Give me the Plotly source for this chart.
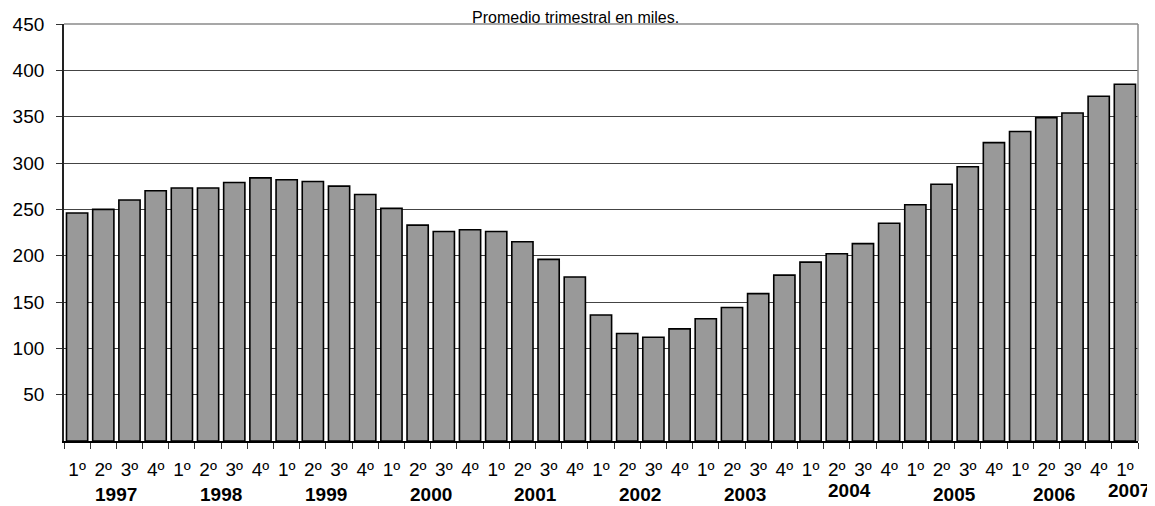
import plotly.graph_objects as go

years = ["1997", "1998", "1999", "2000", "2001", "2002", "2003", "2004", "2005", "2006", "2007"]
quarters = ["1º", "2º", "3º", "4º"] * 10 + ["1º"]
values = [246, 250, 260, 270, 273, 273, 279, 284, 282, 280, 275, 266, 251, 233, 226, 228,
          226, 215, 196, 177, 136, 116, 112, 121, 132, 144, 159, 179, 193, 202, 213, 235,
          255, 277, 296, 322, 334, 349, 354, 372, 385]
yticks = [50, 100, 150, 200, 250, 300, 350, 400, 450]
title_text = "Promedio trimestral en miles."

FONT = "Liberation Sans, Arial, sans-serif"
n = len(values)
xs = list(range(n))

fig = go.Figure()
fig.add_trace(go.Bar(
    x=xs, y=values,
    marker=dict(color="#999999", line=dict(color="black", width=1.6)),
    width=0.81,
    showlegend=False,
    hoverinfo="skip",
))

W, H = 1155, 506
L, R, T, B = 56, 25, 16, 73
ph = H - T - B
pw = W - L - R

fig.update_layout(
    template="none",
    width=W, height=H,
    margin=dict(l=L, r=R, t=T, b=B, pad=0, autoexpand=False),
    paper_bgcolor="white", plot_bgcolor="white",
    font=dict(family=FONT, size=19, color="black"),
)
fig.update_xaxes(
    automargin=False,
    range=[-0.5, n - 0.5],
    tickmode="array", tickvals=xs, ticktext=quarters,
    ticks="", ticklabelstandoff=10,
    tickfont=dict(family=FONT, size=19, color="black"),
    showline=True, linecolor="black", linewidth=1.8,
    showgrid=False, zeroline=False,
    minor=dict(tickmode="array", tickvals=[i - 0.5 for i in range(n + 1)],
               ticks="outside", ticklen=6, tickcolor="#333333", tickwidth=1, showgrid=False),
)
fig.update_yaxes(
    automargin=False,
    range=[0, 450],
    tickmode="array", tickvals=yticks,
    ticks="outside", ticklen=6, tickcolor="#333333", tickwidth=1,
    ticklabelstandoff=8,
    tickfont=dict(family=FONT, size=19, color="black"),
    showline=True, linecolor="#222222", linewidth=1.8,
    showgrid=True, gridcolor="#444444", gridwidth=1,
    zeroline=False,
)

# frame top/right
fig.add_shape(type="line", xref="paper", yref="paper", x0=0, x1=1, y0=1, y1=1,
              line=dict(color="#8a8a8a", width=1.5))
fig.add_shape(type="line", xref="paper", yref="paper", x0=1, x1=1, y0=0, y1=1,
              line=dict(color="#8a8a8a", width=1.5))

# year labels (offset below the axis in pixels)
for k, yr in enumerate(years):
    if yr == "2007":
        xpos, off = n - 1 + 0.15, 50
    elif yr == "2006":
        xpos, off = 4 * k + 1.5 - 0.2, 53
    elif yr == "2004":
        xpos, off = 4 * k + 1.5, 50
    else:
        xpos, off = 4 * k + 1.5, 53
    fig.add_annotation(x=xpos, xref="x", y=-off / ph, yref="paper",
                       text=yr, showarrow=False, xanchor="center", yanchor="middle",
                       font=dict(family=FONT, size=19, color="black", weight="bold"))

# title at the very top
fig.add_annotation(x=(567 - L) / pw, xref="paper", y=1 + T / ph, yref="paper",
                   text=title_text, showarrow=False, xanchor="center", yanchor="top",
                   borderpad=0,
                   font=dict(family=FONT, size=16, color="black"))

fig.write_html("out.html")
